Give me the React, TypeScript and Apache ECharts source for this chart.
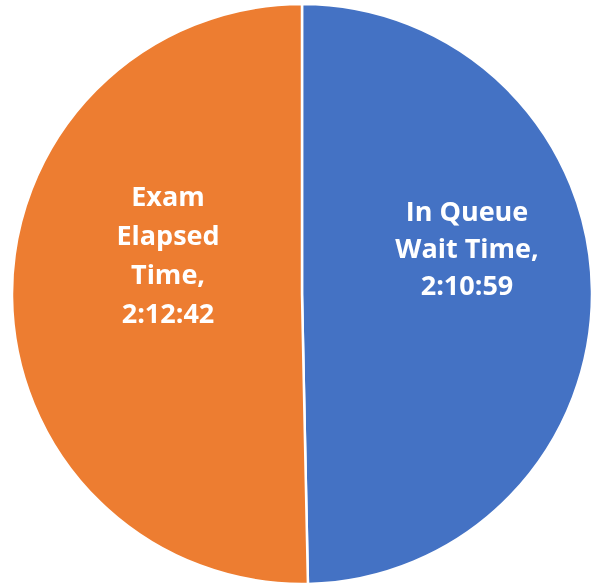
import React, { useEffect, useRef } from "react";
import * as echarts from "echarts";

const categories = ["In Queue Wait Time", "Exam Elapsed Time"];
const wrappedLabels = ["In Queue\nWait Time,", "Exam\nElapsed\nTime,"];
const durations = ["2:10:59", "2:12:42"];
const colors = ["#4472C4", "#ED7D31"];

const toSeconds = (s: string) =>
  s.split(":").reduce((acc, p) => acc * 60 + Number(p), 0);

export default function App() {
  const ref = useRef<HTMLDivElement>(null);
  useEffect(() => {
    if (!ref.current) return;
    const chart = echarts.init(ref.current, undefined, { renderer: "svg" });
    const offsets = [
      [17, -45],
      [14, -42],
    ];
    const lineHeights = [37, 39];
    chart.setOption({
      animation: false,
      series: [
        {
          type: "pie",
          center: [302, 294],
          radius: 290,
          startAngle: 90,
          clockwise: true,
          itemStyle: { borderColor: "#ffffff", borderWidth: 2.5 },
          emphasis: { disabled: true },
          data: categories.map((name, i) => ({
            name,
            value: toSeconds(durations[i]),
            itemStyle: { color: colors[i] },
            label: {
              show: true,
              position: "inside",
              offset: offsets[i],
              formatter: () => `${wrappedLabels[i]}\n${durations[i]}`,
              color: "#ffffff",
              fontFamily: "Open Sans",
              fontWeight: "bold",
              fontSize: 27,
              lineHeight: lineHeights[i],
              align: "center",
            },
          })),
          labelLine: { show: false },
        },
      ],
    });
    return () => chart.dispose();
  }, []);
  return (
    <div
      ref={ref}
      style={{ position: "fixed", left: 0, top: 0, width: 595, height: 583 }}
    />
  );
}
